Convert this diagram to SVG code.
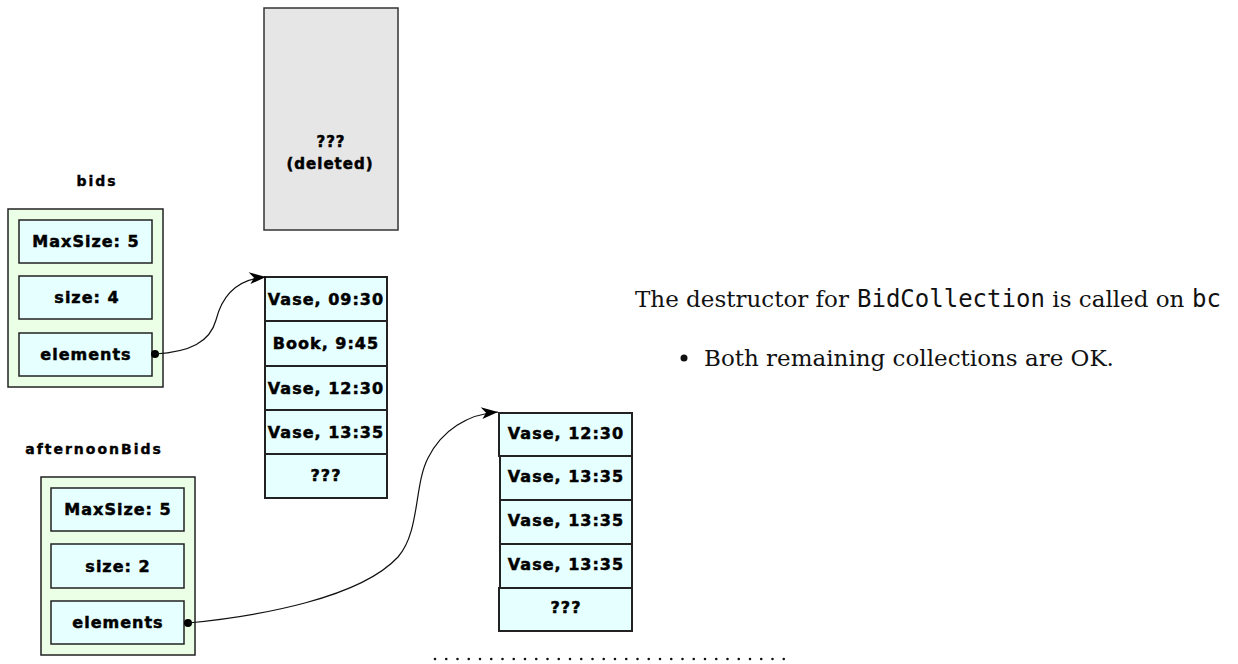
<svg xmlns="http://www.w3.org/2000/svg" width="1238" height="664" viewBox="0 0 1238 664">
  <style>
    .obj { fill: #ebffe6; stroke: #222; stroke-width: 1.5; }
    .cell { fill: #e6ffff; stroke: #222; stroke-width: 1.5; }
    .slot { fill: #e6ffff; stroke: #222; stroke-width: 2; }
    .gone { fill: #e6e6e6; stroke: #333; stroke-width: 1.5; }
    .lbl { font-family: "DejaVu Sans", Verdana, sans-serif; font-weight: bold; font-size: 16px; letter-spacing: 1px; fill: #000; stroke: #000; stroke-width: 0.5; text-anchor: middle; }
    .small { font-size: 15px; }
    .name { font-family: "DejaVu Sans", Verdana, sans-serif; font-weight: bold; font-size: 14px; letter-spacing: 2px; fill: #000; stroke: #000; stroke-width: 0.4; text-anchor: middle; }
    .wire { fill: none; stroke: #111; stroke-width: 1.2; }
    .note { font-family: "DejaVu Serif", "Liberation Serif", serif; font-size: 23px; fill: #111; }
    .code { font-family: "DejaVu Sans Mono", "Liberation Mono", monospace; font-size: 24px; fill: #111; }
  </style>
  <defs>
    <marker id="head" markerUnits="userSpaceOnUse" markerWidth="20" markerHeight="16" refX="18" refY="8" orient="auto">
      <path d="M18,8 L1,2 L6,8 L2,14 Z" fill="#000"/>
    </marker>
  </defs>

  <rect width="1238" height="664" fill="#fff"/>

  <!-- freed block -->
  <g id="deleted">
    <rect class="gone" x="264" y="8" width="134" height="222"/>
    <text class="lbl small" x="331" y="147">???</text>
    <text class="lbl small" x="330" y="169">(deleted)</text>
  </g>

  <!-- bids object -->
  <g id="bids">
    <text class="name" x="97" y="186">bids</text>
    <rect class="obj" x="8" y="209" width="155" height="178"/>
    <rect class="cell" x="19" y="220" width="133" height="43"/>
    <text class="lbl" x="86" y="247">MaxSize: 5</text>
    <rect class="cell" x="19" y="276" width="133" height="43"/>
    <text class="lbl" x="87" y="303">size: 4</text>
    <rect class="cell" x="19" y="333" width="133" height="43"/>
    <text class="lbl" x="86" y="360">elements</text>
    <circle cx="155" cy="354" r="4" fill="#000"/>
  </g>

  <!-- array owned by bids -->
  <g id="bidsArray">
    <rect class="slot" x="265" y="277" width="122" height="44"/>
    <text class="lbl" x="326" y="305">Vase, 09:30</text>
    <rect class="slot" x="265" y="321" width="122" height="45"/>
    <text class="lbl" x="326" y="349">Book, 9:45</text>
    <rect class="slot" x="265" y="366" width="122" height="44"/>
    <text class="lbl" x="326" y="394">Vase, 12:30</text>
    <rect class="slot" x="265" y="410" width="122" height="44"/>
    <text class="lbl" x="326" y="438">Vase, 13:35</text>
    <rect class="slot" x="265" y="454" width="122" height="44"/>
    <text class="lbl" x="326" y="481">???</text>
  </g>

  <!-- afternoonBids object -->
  <g id="afternoonBids">
    <text class="name" x="94" y="454">afternoonBids</text>
    <rect class="obj" x="41" y="477" width="154" height="178"/>
    <rect class="cell" x="51" y="488" width="133" height="43"/>
    <text class="lbl" x="118" y="515">MaxSize: 5</text>
    <rect class="cell" x="51" y="544" width="133" height="44"/>
    <text class="lbl" x="118" y="572">size: 2</text>
    <rect class="cell" x="51" y="601" width="133" height="43"/>
    <text class="lbl" x="118" y="628">elements</text>
    <circle cx="188" cy="623" r="4" fill="#000"/>
  </g>

  <!-- array owned by afternoonBids -->
  <g id="afternoonArray">
    <rect class="slot" x="499" y="413" width="133" height="43"/>
    <text class="lbl" x="566" y="439">Vase, 12:30</text>
    <rect class="slot" x="500" y="456" width="132" height="44"/>
    <text class="lbl" x="566" y="482">Vase, 13:35</text>
    <rect class="slot" x="500" y="500" width="132" height="44"/>
    <text class="lbl" x="566" y="526">Vase, 13:35</text>
    <rect class="slot" x="500" y="544" width="132" height="44"/>
    <text class="lbl" x="566" y="570">Vase, 13:35</text>
    <rect class="slot" x="499" y="588" width="133" height="43"/>
    <text class="lbl" x="566" y="613">???</text>
  </g>

  <!-- pointers -->
  <g id="connectors">
    <path class="wire" d="M155,354 C190,352 210,342 216,320 C222,296 236,279 266,277" marker-end="url(#head)"/>
    <path class="wire" d="M188,623 C260,616 360,598 398,557 C420,532 414,485 428,458 C442,430 468,414 498,412" marker-end="url(#head)"/>
  </g>

  <!-- dotted rule -->
  <line x1="435" y1="659" x2="784" y2="659" stroke="#111" stroke-width="2.6" stroke-linecap="round" stroke-dasharray="0 11.25"/>

  <!-- notes -->
  <g id="notes">
    <text class="note" y="307"><tspan x="635">The destructor for </tspan><tspan class="code" x="857">BidCollection</tspan><tspan x="1045"> is called on </tspan><tspan class="code" x="1192">bc</tspan></text>
    <circle cx="684" cy="358" r="3.5" fill="#111"/>
    <text class="note" x="704" y="366">Both remaining collections are OK.</text>
  </g>
</svg>
